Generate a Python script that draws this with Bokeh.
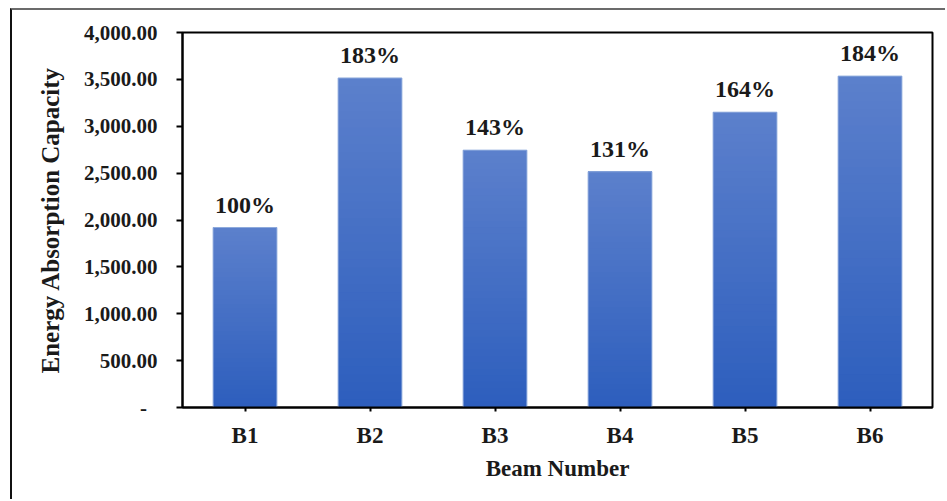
from bokeh.plotting import figure
from bokeh.models import FactorRange, Range1d, FixedTicker, ColumnDataSource
from bokeh.core.properties import value
from bokeh.embed import file_html
from bokeh.resources import INLINE

# Data
beams = ["B1", "B2", "B3", "B4", "B5", "B6"]
energy = [1920, 3515, 2745, 2515, 3150, 3535]
pct_labels = ["100%", "183%", "143%", "131%", "164%", "184%"]
y_ticks = [0, 500, 1000, 1500, 2000, 2500, 3000, 3500, 4000]
y_tick_labels = ["-\u00a0\u00a0", "500.00", "1,000.00", "1,500.00", "2,000.00",
                 "2,500.00", "3,000.00", "3,500.00", "4,000.00"]

FONT = "Liberation Serif"

p = figure(
    x_range=FactorRange(*beams, range_padding=0),
    y_range=Range1d(0, 4000),
    width=935, height=491,
    output_backend="svg", toolbar_location=None,
    min_border_left=170, min_border_right=15,
    min_border_top=22, min_border_bottom=94,
)
p.margin = (8, 0, 0, 10)
p.styles = {"border-left": "2px solid #111111", "border-top": "2px solid #6b6b6b"}

# Vertical gradient per bar: overlapping rectangles, each starting higher
# and a little lighter, so the bar shades from dark (bottom) to light (top)
n_slices = 40
top_rgb = (92, 128, 204)
bot_rgb = (45, 94, 189)
xs, bottoms, tops, colors = [], [], [], []
for i in range(n_slices):
    f = (i + 0.5) / n_slices
    rgb = tuple(int(round(bot_rgb[k] + (top_rgb[k] - bot_rgb[k]) * f)) for k in range(3))
    for b, v in zip(beams, energy):
        xs.append(b)
        bottoms.append(v * i / n_slices)
        tops.append(v)
        colors.append("#%02x%02x%02x" % rgb)

p.vbar(x=xs, bottom=bottoms, top=tops, width=0.51, fill_color=colors,
       line_color=None)
# light edge around each bar
p.vbar(x=beams, top=energy, width=0.51, fill_color=None,
       line_color="#8eaadc", line_width=1)

# Percentage labels above the bars
src = ColumnDataSource(dict(x=beams, y=energy, t=pct_labels))
p.text(x="x", y="y", text="t", source=src, text_align="center",
       text_baseline="bottom", y_offset=-10,
       text_font=value(FONT), text_font_style="bold",
       text_font_size="24px", text_color="#1a1a1a")

# Frame
p.outline_line_color = "black"
p.outline_line_width = 2
p.outline_line_alpha = 1
p.xgrid.visible = False
p.ygrid.visible = False
p.background_fill_color = "white"
p.border_fill_color = "white"

# Y axis
ya = p.yaxis[0]
ya.ticker = FixedTicker(ticks=y_ticks)
ya.major_label_overrides = {t: l for t, l in zip(y_ticks, y_tick_labels)}
ya.axis_label = "Energy Absorption Capacity"
ya.axis_line_color = "black"
ya.axis_line_width = 2
ya.major_tick_line_color = "black"
ya.major_tick_line_width = 2
ya.major_tick_out = 6
ya.major_tick_in = 0
ya.minor_tick_line_color = None
ya.major_label_standoff = 19
ya.axis_label_standoff = 17
ya.major_label_text_font = FONT
ya.major_label_text_font_style = "bold"
ya.major_label_text_font_size = "21px"
ya.major_label_text_color = "#1a1a1a"
ya.axis_label_text_font = FONT
ya.axis_label_text_font_style = "bold"
ya.axis_label_text_font_size = "25px"
ya.axis_label_text_color = "#1a1a1a"

# X axis
xa = p.xaxis[0]
xa.axis_label = "Beam Number"
xa.axis_line_color = "black"
xa.axis_line_width = 2
xa.major_tick_line_color = "black"
xa.major_tick_line_width = 2
xa.major_tick_out = 4
xa.major_tick_in = 0
xa.major_label_standoff = 11
xa.axis_label_standoff = 5
xa.major_label_text_font = FONT
xa.major_label_text_font_style = "bold"
xa.major_label_text_font_size = "23px"
xa.major_label_text_color = "#1a1a1a"
xa.axis_label_text_font = FONT
xa.axis_label_text_font_style = "bold"
xa.axis_label_text_font_size = "23px"
xa.axis_label_text_color = "#1a1a1a"

open("out.html", "w").write(file_html(p, INLINE))
